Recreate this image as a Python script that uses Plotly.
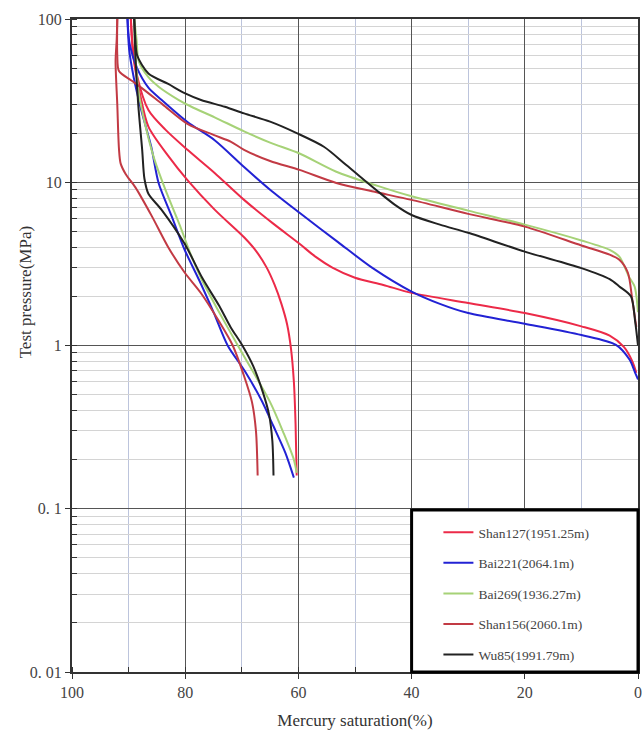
import plotly.graph_objects as go

# ---------------- data (saturation %, pressure MPa) ----------------
names = ["Shan127(1951.25m)", "Bai221(2064.1m)", "Bai269(1936.27m)", "Shan156(2060.1m)", "Wu85(1991.79m)"]
colors = ["#ec2a48", "#2222d4", "#a6d277", "#c23a44", "#222222"]

# injection curves
shan127_in_sat = [89.6, 89.3, 88.5, 86.5, 83.5, 79.6, 74.8, 69.6, 64.5, 59.8, 57, 54, 50, 45, 40, 30, 20, 10, 5, 2.5, 1, 0.3]
shan127_in_p = [100, 70, 45, 27.7, 21, 15.8, 11.4, 7.8, 5.6, 4.2, 3.5, 3.0, 2.6, 2.35, 2.1, 1.82, 1.58, 1.31, 1.15, 0.98, 0.8, 0.68]

bai221_in_sat = [90.2, 89.8, 88.5, 86.5, 84.2, 79.6, 74.8, 69.6, 65, 59.8, 53, 47, 40, 35, 30, 20, 10, 3.9, 1.5, 0.5, 0]
bai221_in_p = [100, 70, 50, 38, 32, 23.4, 18.1, 12.4, 9, 6.5, 4.3, 3.0, 2.14, 1.8, 1.58, 1.36, 1.16, 1.01, 0.82, 0.68, 0.62]

bai269_in_sat = [89.0, 88.6, 88.2, 86.5, 84.7, 81.2, 78.9, 74.8, 69.6, 65, 59.8, 53.3, 46, 40, 30, 20, 10, 5, 3.3, 1.5, 0.6, 0]
bai269_in_p = [100, 75, 55, 44, 38.5, 32, 29, 25, 20.5, 17.5, 15, 11.6, 9.5, 8.2, 6.7, 5.5, 4.4, 3.85, 3.5, 2.6, 2.3, 1.6]

shan156_in_sat = [92.0, 92.0, 91.7, 89.5, 87.6, 84, 79.6, 75, 71.9, 69.6, 65, 59.8, 53.3, 47, 40, 30, 20, 10, 5, 3.3, 1.8, 1.0, 0.3]
shan156_in_p = [100, 60, 48, 42, 37.6, 30, 22.8, 19.5, 17.7, 15.8, 13.5, 11.9, 9.9, 8.8, 7.8, 6.4, 5.35, 4.1, 3.6, 3.35, 2.8, 1.9, 1.3]

wu85_in_sat = [89.0, 88.8, 88.5, 86.5, 83, 80, 77.2, 73, 69.6, 65, 60.3, 55.5, 51.6, 46.3, 43, 40, 35, 30, 20, 10, 5, 3.3, 1.25, 0.5, 0]
wu85_in_p = [100, 75, 60, 46.4, 40, 35, 31.9, 29, 26.4, 23.5, 20, 16.5, 12.8, 9, 7.3, 6.3, 5.5, 4.9, 3.76, 2.98, 2.55, 2.3, 2.0, 1.4, 1.0]

# withdrawal curves
shan127_out_sat = [89.6, 89.2, 88.0, 86.5, 83.0, 79.6, 74.8, 69.6, 67.5, 65.6, 64.2, 63.0, 62.0, 61.3, 60.8, 60.5, 60.3]
shan127_out_p = [100, 60, 35, 21.9, 14.5, 10.3, 6.8, 4.6, 3.8, 3.0, 2.35, 1.8, 1.35, 0.95, 0.6, 0.33, 0.16]

bai221_out_sat = [90.2, 89.9, 89.1, 87.8, 86.0, 84.7, 82.4, 80.1, 77.5, 75.0, 72.5, 69.5, 66.5, 64.4, 62.3, 60.8]
bai221_out_p = [100, 65, 44, 28, 16.5, 9.9, 6.2, 3.86, 2.5, 1.6, 1.0, 0.7, 0.46, 0.32, 0.22, 0.155]

bai269_out_sat = [89.0, 88.8, 88.2, 87.0, 85.5, 83.5, 81.0, 79.0, 77.0, 74.0, 70.7, 67.9, 65.0, 62.6, 60.8, 60.3]
bai269_out_p = [100, 60, 35, 22, 14, 9, 5.5, 3.6, 2.5, 1.6, 1.0, 0.68, 0.45, 0.29, 0.2, 0.166]

shan156_out_sat = [92.0, 92.1, 92.3, 92.0, 91.7, 91.4, 90.5, 88.8, 85.9, 83.0, 80.1, 77.2, 74.0, 71.6, 69.6, 68.2, 67.5, 67.2]
shan156_out_p = [100, 75, 55, 30, 16, 13, 11.2, 9.3, 6.2, 4.0, 2.8, 2.09, 1.4, 1.0, 0.65, 0.45, 0.3, 0.16]

wu85_out_sat = [89.0, 88.8, 88.3, 87.6, 87.2, 86.5, 84.2, 80.1, 77.0, 74.0, 72.0, 69.9, 68.0, 66.3, 65.2, 64.6, 64.4]
wu85_out_p = [100, 60, 30, 15.8, 10.5, 8.5, 6.8, 4.2, 2.6, 1.75, 1.3, 1.0, 0.75, 0.52, 0.38, 0.26, 0.16]

injection = [(shan127_in_sat, shan127_in_p), (bai221_in_sat, bai221_in_p), (bai269_in_sat, bai269_in_p),
             (shan156_in_sat, shan156_in_p), (wu85_in_sat, wu85_in_p)]
withdrawal = [(shan127_out_sat, shan127_out_p), (bai221_out_sat, bai221_out_p), (bai269_out_sat, bai269_out_p),
              (shan156_out_sat, shan156_out_p), (wu85_out_sat, wu85_out_p)]

y_tickvals = [0.01, 0.1, 1, 10, 100]
y_ticktext = ["0. 01", "0. 1", "1", "10", "100"]
x_tickvals = [100, 80, 60, 40, 20, 0]

FONT = "Liberation Serif"

fig = go.Figure()
for i, name in enumerate(names):
    sx, sp = injection[i]
    fig.add_trace(go.Scatter(x=sx, y=sp, mode="lines", name=name, legendgroup=name,
                             line=dict(color=colors[i], width=2, shape="spline", smoothing=0.8)))
    wx, wp = withdrawal[i]
    fig.add_trace(go.Scatter(x=wx, y=wp, mode="lines", name=name, legendgroup=name, showlegend=False,
                             line=dict(color=colors[i], width=2, shape="spline", smoothing=0.8)))

W, H = 642, 741
ml, mr, mt, mb = 72, 0, 19, 69
ph = H - mt - mb
pw = W - ml - mr

def ypaper(px):
    return (H - mb - px) / ph

def xpaper(px):
    return (px - ml) / pw

fig.update_layout(
    width=W, height=H,
    margin=dict(l=ml, r=mr, t=mt, b=mb),
    paper_bgcolor="white", plot_bgcolor="white",
    font=dict(family=FONT, color="#333333"),
    showlegend=True,
    legend=dict(x=xpaper(441), y=ypaper(517), xanchor="left", yanchor="top",
                bgcolor="rgba(0,0,0,0)", borderwidth=0,
                font=dict(family=FONT, size=13.5, color="#444444"),
                traceorder="grouped", tracegroupgap=10),
    shapes=[dict(type="rect", xref="paper", yref="paper", x0=0.6, x1=1.0, y0=0, y1=ypaper(510),
                 line=dict(color="black", width=3), fillcolor="white", layer="above")],
    annotations=[dict(text="Test pressure(MPa)", textangle=-90, xref="paper", yref="paper",
                      x=xpaper(25), y=ypaper(292), xanchor="center", yanchor="middle", showarrow=False,
                      font=dict(family=FONT, size=17, color="#333333"))],
)

fig.update_xaxes(
    range=[100, 0], tickvals=x_tickvals, ticks="outside", ticklen=5, tickcolor="#333",
    tickfont=dict(family=FONT, size=16, color="#444"), ticklabeloverflow="allow",
    showgrid=True, gridcolor="#555555", gridwidth=1.2,
    minor=dict(dtick=10, showgrid=True, gridcolor="#bcc4dc", gridwidth=1, ticks="inside", ticklen=5, tickcolor="#333"),
    showline=True, linecolor="#333", linewidth=2, mirror=True,
    zeroline=False,
    title=dict(text="Mercury saturation(%)", font=dict(family=FONT, size=17, color="#333"), standoff=14),
)
fig.update_yaxes(
    type="log", range=[-2, 2], tickvals=y_tickvals, ticktext=y_ticktext,
    ticks="outside", ticklen=5, tickcolor="#333",
    tickfont=dict(family=FONT, size=16, color="#444"),
    showgrid=True, gridcolor="#555555", gridwidth=1.2,
    minor=dict(dtick="D1", showgrid=True, gridcolor="#d4d4d4", gridwidth=1, ticks="inside", ticklen=5, tickcolor="#333"),
    showline=True, linecolor="#333", linewidth=2, mirror=True,
    zeroline=False,
)

fig.write_html("out.html", config={"displayModeBar": False},
               post_script="document.body.style.margin='0';document.body.style.padding='0';"
                           "document.body.style.overflow='hidden';document.documentElement.style.overflow='hidden';")
